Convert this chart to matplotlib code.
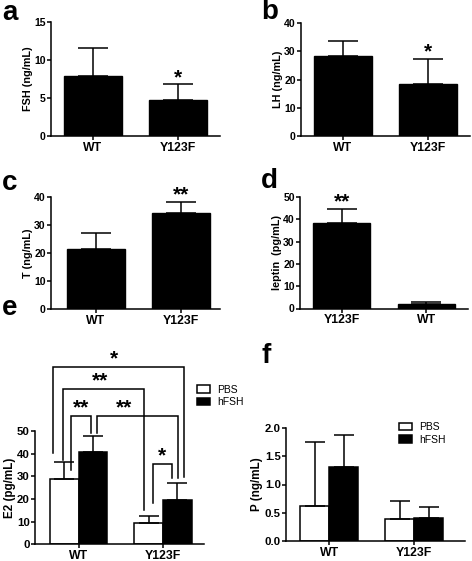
import numpy as np
import matplotlib
matplotlib.use("Agg")
from matplotlib import pyplot as plt

plt.rcParams['font.family'] = ['Liberation Sans', 'DejaVu Sans']
plt.rcParams['font.weight'] = 'bold'
plt.rcParams['axes.linewidth'] = 1.1

# donnees
groupes = ["WT", "Y123F"]
fsh = [7.9, 4.8]
fsh_err = [3.7, 2.0]
lh = [28.2, 18.4]
lh_err = [5.4, 9.0]
testo = [21.5, 34.4]
testo_err = [5.5, 3.8]
groupes_leptine = ["Y123F", "WT"]
leptine = [38.5, 2.0]
leptine_err = [6.3, 1.0]
e2_pbs = [28.9, 9.3]
e2_pbs_err = [7.5, 3.2]
e2_hfsh = [40.6, 19.6]
e2_hfsh_err = [7.3, 7.4]
p_pbs = [0.61, 0.39]
p_pbs_err = [1.15, 0.32]
p_hfsh = [1.31, 0.40]
p_hfsh_err = [0.57, 0.20]
etoiles_simples = ["*", "*", "**", "**"]

W, H = 472, 561
fig = plt.figure(figsize=(W / 100, H / 100), dpi=100)


def axes_px(x0, x1, ytop, ybas):
    return fig.add_axes([x0 / W, 1 - ybas / H, (x1 - x0) / W, (ybas - ytop) / H])


def habillage(ax, ymax, pas, labels, ylabel, fmt="{:g}", fs_ticks=7.6, fs_label=7.8):
    ax.spines['top'].set_visible(False)
    ax.spines['right'].set_visible(False)
    ax.set_ylim(0, ymax)
    ticks = np.arange(0, ymax + pas / 2, pas)
    ax.set_yticks(ticks)
    ax.set_yticklabels([fmt.format(t) for t in ticks], fontsize=fs_ticks, fontweight='bold')
    ax.set_xticks(range(len(labels)))
    ax.set_xticklabels(labels, fontsize=8.8, fontweight='bold')
    ax.tick_params(direction='out', length=3.2, width=1.1, pad=0.5)
    ax.tick_params(axis='x', pad=1)
    ax.set_ylabel(ylabel, fontsize=fs_label, fontweight='bold', labelpad=1)


def simple(ax, vals, errs, etoile, idx):
    x = np.arange(len(vals))
    ax.bar(x, vals, width=0.68, color='black', edgecolor='black',
           yerr=[np.zeros(len(errs)), errs],
           error_kw=dict(capsize=10.5, elinewidth=1.1, capthick=1.1, ecolor='black'))
    top = vals[idx] + errs[idx]
    ax.annotate(etoile, (idx, top), xytext=(0, -2), textcoords='offset points',
                ha='center', va='bottom', fontsize=15, fontweight='bold',
                annotation_clip=False)


# a
ax = axes_px(51, 220, 22, 136)
simple(ax, fsh, fsh_err, etoiles_simples[0], 1)
ax.set_xlim(-0.49, 1.49)
habillage(ax, 15, 5, groupes, "FSH (ng/mL)")

# b
ax = axes_px(301, 470, 23, 136)
simple(ax, lh, lh_err, etoiles_simples[1], 1)
ax.set_xlim(-0.49, 1.49)
habillage(ax, 40, 10, groupes, "LH (ng/mL)")

# c
ax = axes_px(51, 220, 197, 309)
simple(ax, testo, testo_err, etoiles_simples[2], 1)
ax.set_xlim(-0.53, 1.46)
habillage(ax, 40, 10, groupes, "T (ng/mL)")

# d
ax = axes_px(300, 468, 197, 308.5)
simple(ax, leptine, leptine_err, etoiles_simples[3], 0)
ax.set_xlim(-0.49, 1.49)
habillage(ax, 50, 10, groupes_leptine, "leptin  (pg/mL)")


def double(ax, pbs, pbs_err, hfsh, hfsh_err, capsize):
    x = np.arange(len(pbs))
    w = 0.34
    ek = dict(capsize=capsize, elinewidth=1.1, capthick=1.1, ecolor='black')
    ax.bar(x - w / 2, pbs, width=w, color='white', edgecolor='black', linewidth=1.1,
           yerr=[np.zeros(len(pbs)), pbs_err], error_kw=ek, label='PBS')
    ax.bar(x + w / 2, hfsh, width=w, color='black', edgecolor='black', linewidth=1.1,
           yerr=[np.zeros(len(hfsh)), hfsh_err], error_kw=ek, label='hFSH')


legende = dict(frameon=False, handlelength=1.25, handleheight=0.75, handletextpad=0.7,
               labelspacing=0.25, borderaxespad=0, borderpad=0,
               prop=dict(weight='normal', size=7.5))

# e
x0_e, x1_e = 35, 204
ax = axes_px(x0_e, x1_e, 431, 544.3)
double(ax, e2_pbs, e2_pbs_err, e2_hfsh, e2_hfsh_err, 7.5)
ax.set_xlim(-0.515, 1.485)
habillage(ax, 50, 10, groupes, "E2 (pg/mL)", fs_ticks=8.2, fs_label=8.4)
ax.legend(loc='upper left', bbox_to_anchor=((197 - x0_e) / (x1_e - x0_e), 1.41), **legende)

# crochets de significativite : x1, x2, haut, bas gauche, bas droit, texte, position texte
crochets = [
    (-0.298, 1.252, 78.1, 40.4, 29.9, "*", 0.42, 77.5),
    (-0.187, 0.775, 68.6, 37.3, 15.2, "**", 0.254, 68.0),
    (-0.089, 0.144, 56.8, 32.9, 49.2, "**", 0.026, 56.2),
    (0.215, 1.174, 56.8, 49.2, 29.3, "**", 0.538, 56.2),
    (0.878, 1.103, 35.5, 18.3, 29.3, "*", 0.99, 34.9),
]
for x1, x2, yh, yg, yd, txt, xt, yt in crochets:
    ax.plot([x1, x1, x2, x2], [yg, yh, yh, yd], color='black', lw=1.1,
            clip_on=False, solid_joinstyle='miter')
    ax.text(xt, yt, txt, ha='center', va='bottom', fontsize=15, fontweight='bold',
            clip_on=False)

# f
ax = axes_px(286, 465, 428.3, 540.7)
double(ax, p_pbs, p_pbs_err, p_hfsh, p_hfsh_err, 7.3)
ax.set_xlim(-0.51, 1.6)
habillage(ax, 2.0, 0.5, groupes, "P (ng/mL)", fmt="{:.1f}", fs_ticks=8.2, fs_label=8.4)
ax.legend(loc='upper left', bbox_to_anchor=(0.63, 1.055), **legende)

# lettres des panneaux
for lettre, x, y in [("a", 2, 20), ("b", 261, 19), ("c", 2, 190),
                     ("d", 261, 188), ("e", 2, 315), ("f", 262, 363)]:
    fig.text(x / W, 1 - y / H, lettre, fontsize=20, fontweight='bold', va='baseline')

fig.savefig("out.png", dpi=100)
